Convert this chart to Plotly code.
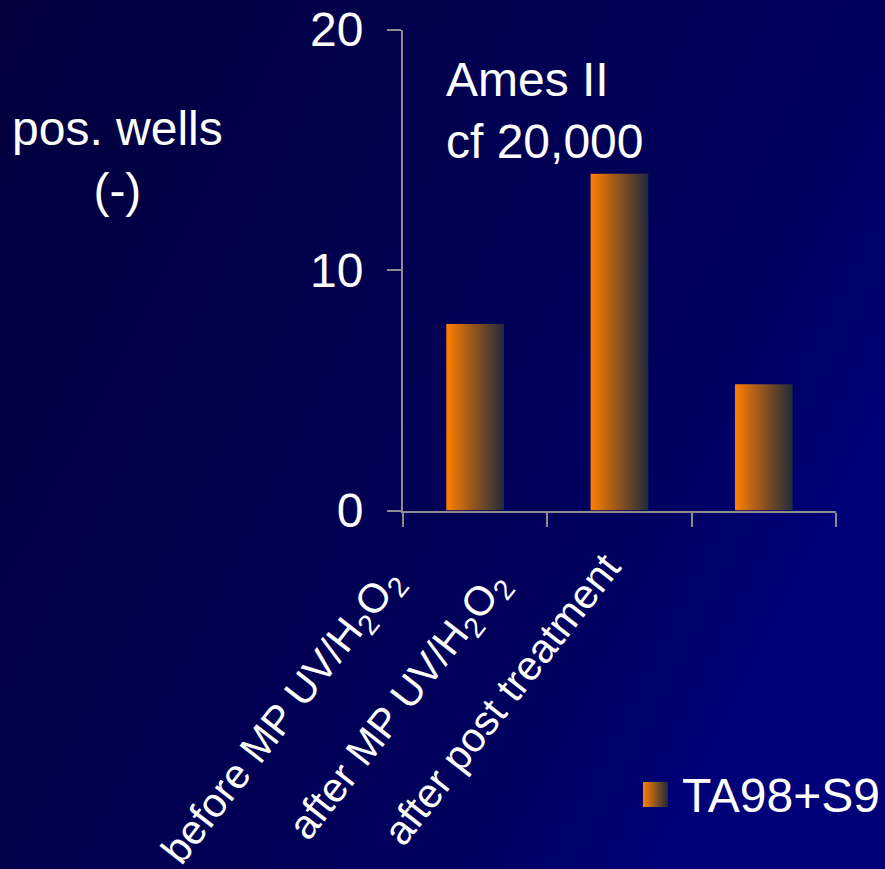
import base64
import plotly.graph_objects as go

# --- data -------------------------------------------------------------
categories = [
    "before MP UV/H<sub>2</sub>O<sub>2</sub>",
    "after MP UV/H<sub>2</sub>O<sub>2</sub>",
    "after post treatment",
]
series_name = "TA98+S9"
pos_wells = [7.75, 14.0, 5.25]
y_ticks = [0, 10, 20]
y_range = [0, 20]

# --- layout constants --------------------------------------------------
W, H = 885, 869
# plot area in pixels (left, right, top, bottom)
PL, PR, PT, PB = 403, 836, 29.5, 510.5

FONT = "Liberation Sans, Arial, Helvetica, sans-serif"
FS = 48
FS_CAT = 41
WHITE = "#ffffff"
AXIS_C = "#8c8c8c"
BAR_W = 0.4
BAR_GRAD = [[0, "#ff8000"], [0.5, "#8e5220"], [1, "#1e2a3c"]]

# centres (pixels) of the rotated category labels
XLAB_CENTRES = [(284, 717), (400, 707), (502, 699)]
CAT_ANGLE = -52


def fx(xp):
    """pixel x -> paper x"""
    return xp / W


def fy(yp):
    """pixel y -> paper y"""
    return 1 - yp / H


# background: diagonal navy gradient
svg = f"""<svg xmlns="http://www.w3.org/2000/svg" width="{W}" height="{H}" viewBox="0 0 {W} {H}" preserveAspectRatio="none">
<defs><linearGradient id="g" x1="0" y1="0" x2="1" y2="0.5">
<stop offset="0" stop-color="#02003c"/>
<stop offset="0.8" stop-color="#00005e"/>
<stop offset="1" stop-color="#000078"/>
</linearGradient></defs>
<rect x="0" y="0" width="{W}" height="{H}" fill="url(#g)"/></svg>"""
bg_src = "data:image/svg+xml;base64," + base64.b64encode(svg.encode()).decode()

fig = go.Figure()

# bars as gradient-filled rectangles
for i, (cat, v) in enumerate(zip(categories, pos_wells)):
    x0, x1 = i - BAR_W / 2, i + BAR_W / 2
    fig.add_trace(
        go.Scatter(
            x=[x0, x1, x1, x0, x0],
            y=[0, 0, v, v, 0],
            mode="lines",
            line=dict(width=0),
            fill="toself",
            fillgradient=dict(type="horizontal", colorscale=BAR_GRAD),
            name=series_name,
            hoveron="fills",
            text=f"{cat}: {v}",
            showlegend=False,
            xaxis="x", yaxis="y",
        )
    )

# legend key, drawn on a full-figure pixel overlay
fig.add_trace(
    go.Scatter(
        x=[655.5],
        y=[794.5],
        mode="markers",
        marker=dict(
            symbol="square",
            size=25,
            color=BAR_GRAD[0][1],
            gradient=dict(type="horizontal", color=BAR_GRAD[-1][1]),
            line=dict(width=0),
        ),
        showlegend=False,
        hoverinfo="skip",
        xaxis="x2", yaxis="y2",
    )
)

annotations = [
    dict(
        text=series_name,
        xref="paper", yref="paper",
        x=fx(680), y=fy(795),
        xanchor="left", yanchor="middle",
        showarrow=False,
        font=dict(family=FONT, size=FS, color=WHITE),
    ),
    dict(
        text="pos. wells<br>(-)",
        xref="paper", yref="paper",
        x=fx(117), y=fy(160),
        xanchor="center", yanchor="middle", align="center",
        showarrow=False,
        font=dict(family=FONT, size=FS, color=WHITE),
    ),
    dict(
        text="Ames II<br>cf 20,000",
        xref="paper", yref="paper",
        x=fx(444), y=fy(110),
        xanchor="left", yanchor="middle", align="left",
        showarrow=False,
        font=dict(family=FONT, size=FS, color=WHITE),
    ),
]
for cat, (cx, cy) in zip(categories, XLAB_CENTRES):
    annotations.append(
        dict(
            text=cat,
            xref="paper", yref="paper",
            x=fx(cx), y=fy(cy),
            xanchor="center", yanchor="middle",
            textangle=CAT_ANGLE,
            showarrow=False,
            font=dict(family=FONT, size=FS_CAT, color=WHITE),
        )
    )

fig.update_layout(
    width=W,
    height=H,
    margin=dict(l=0, r=0, t=0, b=0, pad=0),
    paper_bgcolor="#000050",
    plot_bgcolor="rgba(0,0,0,0)",
    showlegend=False,
    font=dict(family=FONT, size=FS, color=WHITE),
    images=[
        dict(
            source=bg_src,
            xref="paper", yref="paper",
            x=0, y=1,
            sizex=1, sizey=1,
            xanchor="left", yanchor="top",
            sizing="stretch",
            layer="below",
        )
    ],
    annotations=annotations,
    xaxis=dict(
        domain=[PL / W, PR / W],
        anchor="y",
        range=[-0.5, len(categories) - 0.5],
        tickvals=[k - 0.5 for k in range(len(categories) + 1)],
        showticklabels=False,
        ticks="outside", ticklen=14, tickwidth=2, tickcolor=AXIS_C,
        showline=True, linecolor=AXIS_C, linewidth=2,
        showgrid=False, zeroline=False, fixedrange=True,
        automargin=False,
    ),
    yaxis=dict(
        domain=[1 - PB / H, 1 - PT / H],
        anchor="x",
        range=y_range,
        tickvals=y_ticks,
        ticks="outside", ticklen=14, tickwidth=2, tickcolor=AXIS_C,
        tickfont=dict(family=FONT, size=FS, color=WHITE),
        ticklabelstandoff=14,
        showline=True, linecolor=AXIS_C, linewidth=2,
        showgrid=False, zeroline=False, fixedrange=True,
        automargin=False,
    ),
    xaxis2=dict(
        domain=[0, 1], anchor="y2", range=[0, W],
        visible=False, fixedrange=True,
    ),
    yaxis2=dict(
        domain=[0, 1], anchor="x2", range=[H, 0],
        visible=False, fixedrange=True,
    ),
)

fig.write_html("out.html")
